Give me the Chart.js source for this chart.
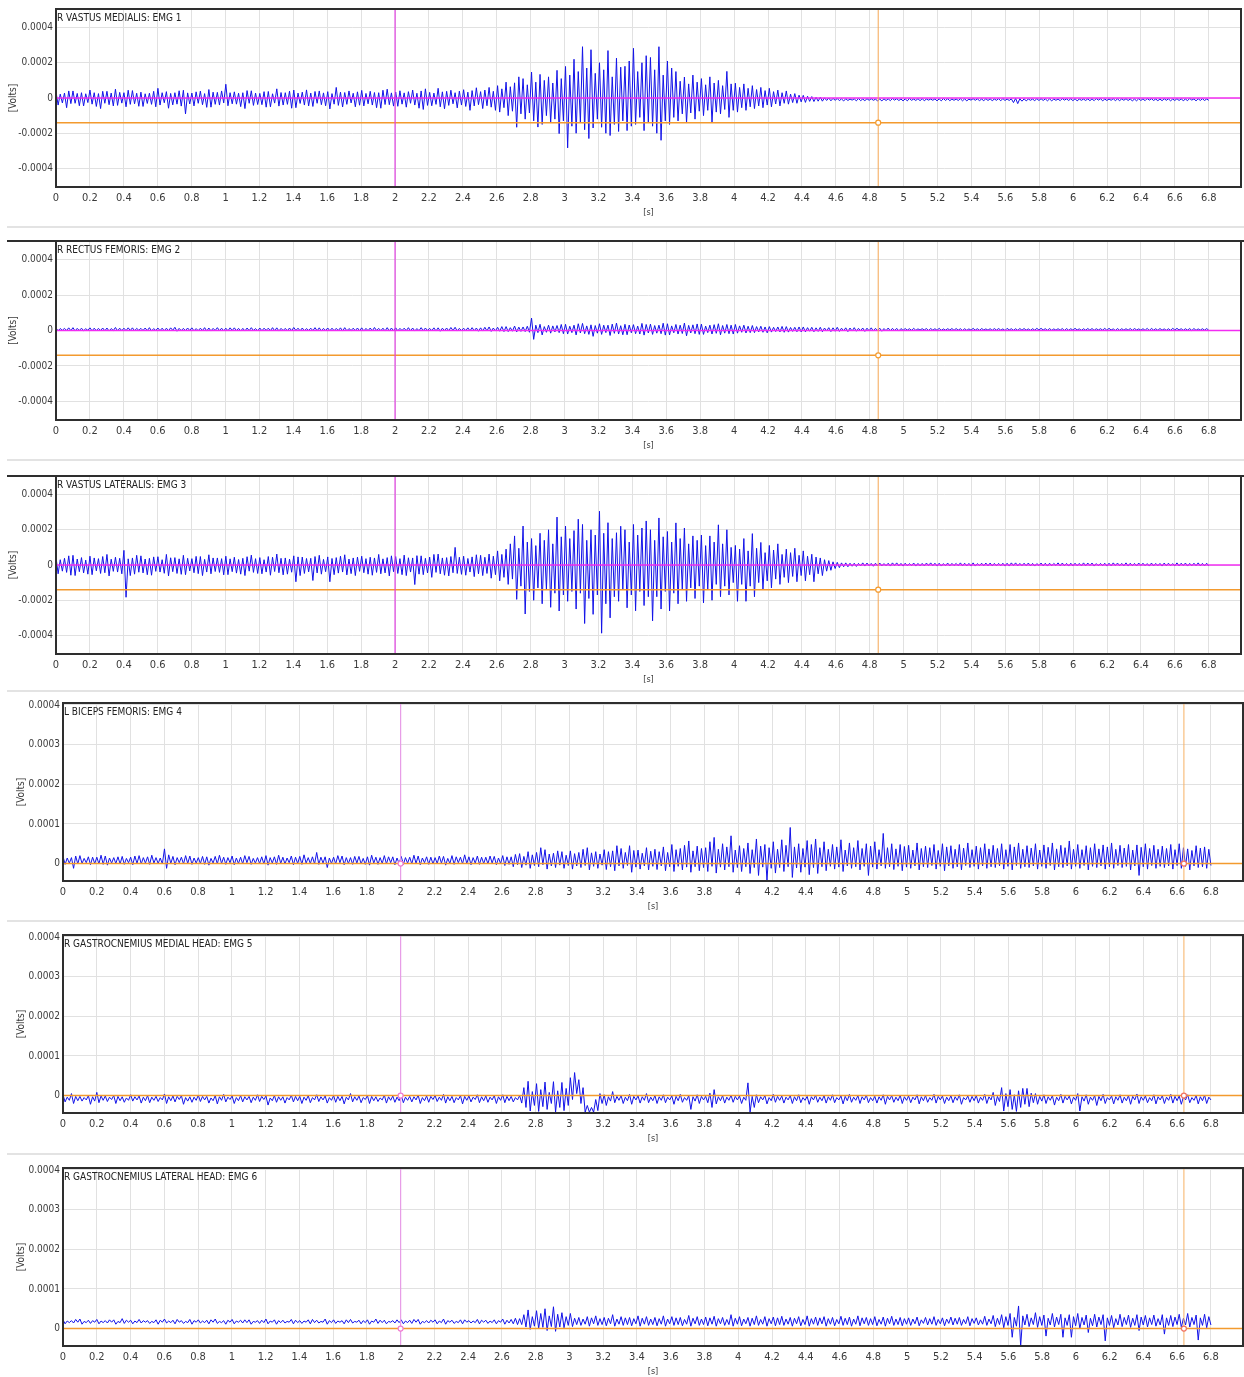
<!DOCTYPE html>
<html lang="en">
<head>
<meta charset="UTF-8">
<title>EMG channels</title>
<script src="https://cdn.jsdelivr.net/npm/chart.js"></script>
<style>
  html, body { margin: 0; padding: 0; background: #fff; overflow: hidden; }
  #sheet { position: relative; width: 1244px; height: 1377px; }
  #sheet canvas { position: absolute; left: 0; }
  .rule { position: absolute; left: 7px; right: 0; height: 2px; background: #e3e3e3; }
</style>
</head>
<body>
<div id="sheet"></div>
<script>
// Peak values per 25 ms bin, in microvolts: positive peak (Hi) and negative peak (Lo).
// One row = 0.5 s.
const TIME_END = 6.8;           // s, end of the recording
const X_MAX = 6.99;

const emg1Hi = [
  35, 22, 28, 40, 40, 26, 30, 24, 45, 30, 25, 38, 38, 28, 50, 32, 30, 44, 42, 27,
  33, 24, 27, 38, 55, 30, 36, 26, 30, 41, 44, 29, 28, 35, 39, 25, 48, 33, 32, 40,
  78, 30, 35, 27, 30, 42, 41, 28, 26, 36, 37, 24, 52, 31, 30, 39, 45, 28, 33, 46,
  28, 37, 40, 29, 36, 25, 60, 33, 31, 40, 27, 35, 43, 26, 38, 31, 30, 44, 50, 29,
  34, 41, 29, 36, 45, 27, 40, 52, 32, 28, 55, 35, 38, 44, 30, 39, 47, 33, 42, 58,
  36, 45, 60, 38, 70, 52, 90, 64, 86, 120, 110, 75, 147, 90, 134, 100, 120, 85, 157, 110,
  179, 130, 220, 150, 291, 170, 274, 140, 200, 160, 269, 120, 226, 175, 180, 210, 282, 150, 200, 240,
  230, 160, 291, 130, 210, 170, 150, 95, 119, 80, 130, 90, 110, 75, 120, 85, 100, 70, 151, 80,
  84, 60, 80, 55, 70, 48, 60, 42, 55, 36, 45, 30, 40, 22, 25, 16, 15, 10, 8, 4,
  4, 1, 0, -2, -3, -5, -4, -6, -5, -3, -6, -4, -4, -7, -6, -5, -5, -3, -4, -6,
  -5, -3, -6, -4, -4, -6, -6, -5, -5, -3, -4, -6, -6, -4, -5, -7, -4, -5, -6, -4,
  -5, -6, -4, -3, -6, -5, -2, -4, -5, -6, -6, -4, -4, -5, -5, -6, -6, -3, -5, -4,
  -4, -6, -6, -5, -5, -3, -4, -6, -6, -4, -5, -5, -4, -6, -6, -4, -5, -3, -4, -6,
  -6, -4, -5, -6, -4, -5, -6, -3, -5, -4, -4, -6
];
const emg1Lo = [
  -40, -28, -55, -32, -30, -44, -45, -26, -35, -48, -60, -30, -38, -45, -42, -29, -50, -36, -33, -47,
  -48, -31, -36, -50, -40, -27, -58, -39, -35, -46, -90, -34, -45, -30, -38, -53, -52, -36, -40, -28,
  -44, -33, -35, -49, -60, -30, -42, -37, -38, -52, -50, -29, -46, -40, -36, -58, -55, -31, -40, -45,
  -48, -30, -38, -44, -62, -35, -42, -51, -36, -28, -50, -41, -45, -33, -40, -55, -58, -37, -38, -46,
  -47, -35, -52, -30, -40, -58, -65, -42, -44, -36, -50, -61, -42, -33, -56, -40, -48, -70, -45, -38,
  -60, -44, -52, -70, -80, -55, -100, -75, -166, -90, -120, -85, -130, -165, -150, -100, -140, -120, -202, -130,
  -283, -160, -200, -140, -180, -230, -170, -120, -166, -200, -213, -150, -190, -130, -185, -160, -150, -110, -185, -140,
  -160, -200, -240, -130, -150, -110, -130, -90, -140, -85, -120, -75, -100, -70, -138, -80, -90, -65, -110, -70,
  -80, -55, -70, -50, -60, -45, -55, -40, -50, -34, -45, -30, -35, -26, -30, -22, -25, -19, -20, -18,
  -18, -14, -16, -13, -15, -17, -14, -12, -16, -15, -15, -13, -13, -16, -16, -14, -15, -12, -14, -16,
  -16, -13, -14, -15, -15, -12, -13, -16, -16, -14, -15, -13, -14, -16, -16, -12, -13, -15, -15, -14,
  -15, -13, -16, -14, -14, -26, -32, -18, -16, -13, -15, -14, -14, -16, -16, -13, -15, -12, -14, -15,
  -16, -13, -14, -15, -15, -12, -16, -14, -13, -15, -15, -13, -14, -16, -16, -14, -15, -12, -14, -15,
  -15, -13, -16, -14, -14, -15, -15, -12, -16, -14, -14, -13
];

const emg2Hi = [
  14, 11, 12, 15, 16, 12, 13, 10, 15, 13, 12, 14, 14, 11, 17, 13, 13, 15, 15, 12,
  12, 14, 16, 11, 14, 13, 13, 15, 18, 12, 12, 14, 15, 11, 13, 16, 14, 12, 16, 13,
  13, 15, 15, 12, 12, 14, 16, 11, 14, 13, 13, 16, 15, 12, 12, 14, 17, 13, 14, 11,
  13, 16, 15, 12, 14, 13, 12, 15, 16, 11, 13, 14, 15, 12, 14, 17, 12, 13, 16, 14,
  15, 12, 13, 16, 14, 11, 16, 14, 12, 15, 15, 13, 14, 17, 18, 12, 13, 15, 16, 14,
  15, 18, 20, 14, 18, 22, 22, 16, 25, 19, 20, 24, 70, 30, 35, 22, 30, 26, 28, 34,
  35, 24, 30, 38, 40, 26, 32, 28, 38, 30, 30, 36, 42, 27, 35, 31, 33, 25, 40, 34,
  36, 28, 30, 41, 38, 26, 34, 30, 42, 29, 32, 37, 36, 25, 30, 33, 38, 28, 34, 30,
  34, 26, 30, 24, 28, 22, 24, 20, 22, 18, 20, 23, 22, 17, 18, 20, 20, 16, 18, 15,
  18, 14, 16, 15, 18, 13, 15, 14, 16, 12, 14, 13, 15, 12, 13, 11, 14, 12, 12, 11,
  11, 10, 12, 9, 10, 11, 11, 10, 12, 9, 10, 11, 11, 10, 10, 9, 12, 10, 11, 9,
  10, 11, 11, 9, 12, 10, 10, 11, 11, 9, 10, 12, 12, 10, 11, 9, 10, 11, 11, 10,
  12, 9, 10, 11, 11, 10, 10, 12, 12, 9, 11, 10, 10, 11, 11, 9, 10, 12, 12, 10,
  11, 9, 10, 12, 12, 10, 10, 11, 11, 9, 10, 11
];
const emg2Lo = [
  -2, 1, 0, -1, -3, 0, -1, 1, -2, -1, 0, -2, -3, 0, -2, -1, -1, 0, -2, 1,
  0, -1, -3, 0, -1, -2, -2, 1, -4, -1, -1, 0, -2, -1, 0, -3, -3, 0, -1, -2,
  -2, 0, -1, -3, -3, -1, 0, -2, -2, 1, -1, -2, -3, 0, -2, -1, 0, -2, -2, 0,
  -1, -2, -3, 0, -2, -1, 0, -3, -2, 0, -1, -2, -3, -1, -2, 0, -1, -3, -3, -1,
  -2, 0, -1, -2, -3, -1, -2, 0, -1, -3, -4, -1, -2, 0, -3, -1, -1, -2, -2, -4,
  -3, -2, -5, -3, -4, -6, -6, -4, -8, -5, -6, -10, -50, -12, -25, -10, -15, -8, -12, -18,
  -20, -12, -25, -14, -18, -22, -33, -15, -22, -12, -28, -16, -20, -24, -24, -13, -18, -20, -26, -14,
  -22, -15, -18, -26, -25, -13, -20, -17, -30, -14, -18, -22, -22, -12, -20, -16, -24, -15, -18, -20,
  -15, -10, -14, -12, -12, -8, -10, -13, -9, -6, -8, -10, -9, -5, -7, -8, -8, -4, -7, -5,
  -7, -3, -6, -4, -5, -2, -6, -3, -4, -1, -5, -2, -3, 0, -4, -1, -2, 0, -3, 1,
  2, 1, 1, 3, 3, 0, 2, 1, 1, 2, 3, 1, 2, 0, 1, 2, 2, 1, 3, 2,
  1, 2, 2, 0, 3, 1, 1, 2, 2, 1, 2, 3, 3, 1, 1, 2, 2, 0, 1, 2,
  3, 1, 2, 2, 1, 3, 2, 1, 3, 0, 1, 2, 2, 1, 3, 2, 1, 0, 2, 1,
  2, 1, 1, 3, 3, 1, 2, 0, 1, 2, 2, 1
];

const emg3Hi = [
  45, 30, 38, 52, 55, 34, 42, 28, 50, 40, 36, 48, 60, 33, 44, 38, 83, 35, 40, 55,
  52, 34, 38, 46, 47, 30, 60, 41, 42, 35, 55, 38, 36, 49, 48, 32, 58, 40, 40, 36,
  50, 35, 44, 31, 38, 47, 56, 36, 42, 30, 48, 44, 62, 38, 40, 33, 52, 46, 45, 37,
  38, 48, 55, 32, 46, 37, 42, 50, 58, 34, 40, 45, 50, 36, 44, 40, 60, 35, 42, 52,
  48, 36, 56, 41, 40, 53, 52, 38, 45, 60, 62, 40, 42, 48, 100, 44, 50, 37, 46, 58,
  55, 44, 62, 50, 80, 60, 90, 120, 165, 95, 221, 130, 150, 110, 180, 140, 200, 120, 272, 160,
  221, 150, 195, 260, 230, 140, 200, 170, 305, 180, 240, 150, 183, 220, 200, 130, 230, 170, 210, 250,
  200, 140, 267, 160, 190, 130, 239, 150, 210, 120, 165, 140, 170, 110, 165, 130, 228, 120, 200, 100,
  111, 90, 150, 80, 178, 95, 128, 70, 111, 85, 120, 60, 90, 70, 95, 55, 80, 50, 61, 45,
  40, 30, 25, 18, 15, 12, 12, 10, 10, 9, 12, 11, 9, 10, 11, 8, 10, 12, 12, 9,
  10, 8, 11, 9, 9, 11, 12, 10, 10, 8, 11, 9, 9, 12, 10, 9, 12, 8, 10, 11,
  11, 9, 9, 10, 10, 12, 12, 9, 10, 11, 9, 8, 11, 10, 10, 9, 12, 11, 9, 10,
  10, 9, 12, 11, 11, 8, 9, 10, 10, 12, 11, 9, 12, 10, 9, 11, 10, 8, 11, 9,
  9, 11, 10, 8, 12, 10, 11, 9, 10, 12, 9, 10
];
const emg3Lo = [
  -50, -35, -42, -58, -60, -38, -45, -52, -55, -33, -48, -44, -62, -36, -40, -50, -183, -60, -52, -41,
  -45, -55, -58, -36, -40, -47, -62, -38, -48, -53, -55, -34, -44, -49, -60, -40, -50, -37, -42, -56,
  -55, -38, -46, -52, -60, -35, -42, -48, -50, -40, -58, -37, -44, -56, -52, -41, -95, -60, -48, -39,
  -88, -45, -52, -38, -95, -55, -46, -40, -56, -49, -60, -36, -44, -52, -58, -42, -50, -45, -62, -38,
  -48, -55, -60, -40, -111, -52, -55, -45, -70, -42, -50, -58, -62, -44, -48, -53, -58, -40, -66, -50,
  -60, -48, -75, -55, -90, -70, -110, -80, -195, -120, -278, -150, -200, -130, -220, -140, -240, -160, -261, -170,
  -206, -150, -250, -160, -332, -190, -280, -170, -387, -220, -300, -180, -206, -140, -243, -170, -260, -150, -230, -180,
  -317, -180, -250, -150, -261, -160, -220, -140, -206, -130, -190, -120, -215, -140, -200, -110, -180, -120, -170, -100,
  -206, -110, -206, -120, -180, -100, -139, -90, -130, -80, -110, -70, -100, -65, -95, -60, -90, -55, -95, -50,
  -60, -35, -30, -20, -15, -10, -10, -7, -8, -5, -6, -4, -7, -5, -5, -4, -6, -3, -5, -6,
  -4, -3, -6, -5, -5, -3, -4, -6, -6, -4, -5, -3, -4, -5, -5, -6, -6, -3, -4, -5,
  -5, -4, -4, -6, -6, -3, -5, -4, -4, -5, -6, -3, -5, -6, -4, -3, -5, -4, -6, -5,
  -4, -5, -5, -3, -6, -4, -4, -6, -5, -3, -4, -5, -6, -4, -5, -3, -4, -6, -5, -4,
  -6, -4, -4, -5, -5, -3, -6, -4, -4, -5, -5, -6
];

const emg4Hi = [
  18, 14, 15, 19, 20, 13, 17, 16, 16, 21, 19, 14, 15, 17, 18, 13, 16, 19, 20, 15,
  17, 21, 15, 14, 37, 22, 18, 15, 16, 20, 19, 14, 15, 18, 17, 13, 18, 21, 16, 15,
  19, 14, 16, 20, 18, 13, 15, 17, 20, 15, 17, 21, 16, 14, 19, 16, 18, 22, 15, 17,
  28, 16, 17, 14, 16, 20, 19, 15, 15, 18, 18, 13, 17, 21, 16, 15, 20, 17, 17, 14,
  18, 15, 16, 21, 19, 14, 17, 16, 15, 19, 18, 13, 20, 17, 16, 22, 17, 15, 19, 16,
  16, 19, 18, 14, 20, 17, 17, 23, 25, 18, 30, 22, 28, 40, 35, 24, 26, 32, 30, 21,
  32, 25, 28, 36, 40, 27, 30, 24, 35, 30, 32, 45, 38, 28, 45, 33, 34, 26, 40, 31,
  36, 30, 42, 28, 48, 35, 38, 46, 57, 32, 44, 38, 40, 55, 66, 36, 50, 42, 70, 34,
  45, 38, 52, 35, 62, 44, 48, 40, 55, 36, 60, 46, 91, 42, 50, 38, 58, 48, 62, 40,
  55, 36, 48, 42, 60, 34, 52, 40, 58, 38, 50, 44, 55, 35, 76, 40, 50, 37, 48, 43,
  46, 34, 52, 38, 44, 40, 48, 33, 50, 42, 45, 36, 48, 39, 52, 35, 44, 40, 50, 37,
  46, 38, 50, 35, 48, 42, 52, 36, 45, 39, 50, 34, 47, 41, 52, 37, 46, 40, 57, 36,
  48, 35, 45, 40, 50, 37, 47, 42, 52, 36, 46, 39, 48, 34, 47, 41, 50, 38, 46, 36,
  44, 38, 48, 35, 50, 40, 37, 33, 45, 39, 42, 36
];
const emg4Lo = [
  -2, 1, -12, -1, 0, 2, -3, 0, -1, -2, -4, 1, 0, -1, -2, 2, -3, 0, -1, 1,
  -2, 1, 0, -1, -12, 0, -3, 2, -1, 0, -2, 1, 0, -2, -4, 1, -1, 0, -2, 2,
  -3, 0, -1, 2, -2, 1, 0, -1, -4, 1, -2, 0, -1, 2, -3, 0, -2, 1, 0, -1,
  -2, 1, -10, 0, -1, 2, -3, 0, -2, 1, -1, -2, -4, 1, -2, 0, -1, 2, -3, 0,
  -2, 1, -1, 0, -3, 2, -2, -1, 0, 1, -4, 0, -2, 2, -1, 0, -3, 1, -2, 0,
  -1, 1, -3, 0, -5, -2, -8, -3, -10, -4, -12, -5, -8, -3, -14, -6, -10, -4, -12, -5,
  -14, -6, -10, -5, -16, -7, -12, -4, -15, -8, -18, -6, -12, -5, -22, -9, -14, -6, -16, -7,
  -15, -6, -18, -8, -20, -7, -16, -9, -22, -8, -18, -10, -20, -7, -24, -9, -16, -8, -22, -10,
  -20, -8, -25, -10, -30, -9, -42, -12, -24, -10, -20, -8, -35, -11, -22, -9, -28, -10, -25, -8,
  -18, -7, -14, -9, -20, -6, -12, -8, -16, -7, -30, -9, -14, -6, -12, -8, -15, -7, -18, -9,
  -12, -6, -16, -8, -10, -5, -14, -7, -18, -6, -12, -8, -16, -5, -10, -7, -14, -6, -12, -8,
  -10, -6, -14, -7, -16, -5, -12, -8, -10, -6, -14, -7, -12, -5, -16, -8, -10, -6, -14, -7,
  -12, -5, -16, -7, -10, -6, -14, -8, -12, -5, -10, -7, -16, -6, -30, -8, -14, -5, -12, -7,
  -10, -6, -14, -5, -12, -7, -16, -6, -10, -8, -12, -5
];

const emg5Hi = [
  2, -4, 5, -2, -2, -5, 0, -3, 8, -1, -1, -4, 0, -2, -3, -6, 2, -3, -1, -4,
  0, -4, -2, -5, 4, -3, -1, -2, 0, -5, -3, -4, 1, -2, -2, -6, 0, -3, 3, -4,
  -1, -5, 0, -3, -2, -4, 2, -2, -1, -6, 0, -3, -3, -5, 1, -2, -2, -4, 0, -5,
  2, -3, -1, -5, 0, -2, -2, -4, 5, -3, -1, -5, 0, -2, -3, -6, 1, -3, -1, -4,
  0, -4, -2, -3, 1, -5, -1, -2, 0, -4, 3, -3, -2, -5, 0, -2, -1, -4, 2, -3,
  -1, -4, 0, -3, 2, -2, -2, -5, 0, 20, 36, 10, 30, 15, 34, 8, 35, 12, 33, 18,
  45, 58, 40, 20, -25, -30, -10, 5, 2, -3, 10, -2, 0, -4, 3, -2, -1, -3, 5, -4,
  0, -3, 2, -4, -1, -2, 3, -5, 0, -3, 2, -2, -2, 6, 15, -3, 0, -4, 1, -2,
  -1, -4, 32, -2, 2, -3, 0, -5, 3, -2, -1, -4, 0, -3, 2, -5, -2, -3, 1, -4,
  0, -3, 2, -5, -1, -2, 3, -4, 0, -3, 1, -5, -2, -3, 2, -2, 0, -4, 1, -3,
  -1, -4, 2, -3, 0, -5, 3, -2, -1, -4, 0, -3, 2, -5, -1, -2, 0, -4, 3, -3,
  8, -2, 20, 5, 15, 2, 12, 18, 18, 6, 5, -2, 2, -3, 0, -4, 3, -2, -1, -4,
  5, -3, 2, -4, 0, -2, 3, -5, -1, -3, 2, -4, 0, -2, 4, -3, -1, -5, 2, -3,
  0, -4, 3, -2, -1, -3, 2, -5, 0, -3, 1, -4
];
const emg5Lo = [
  -16, -12, -20, -13, -14, -11, -22, -14, -18, -12, -15, -10, -20, -13, -17, -12, -14, -11, -19, -13,
  -18, -12, -15, -11, -20, -13, -16, -10, -22, -14, -17, -12, -15, -11, -19, -13, -21, -12, -16, -10,
  -20, -13, -16, -11, -18, -12, -15, -10, -24, -13, -17, -12, -19, -11, -16, -13, -20, -12, -18, -11,
  -15, -11, -19, -12, -17, -13, -21, -11, -16, -12, -18, -10, -20, -13, -15, -11, -19, -12, -17, -13,
  -18, -12, -16, -11, -20, -13, -17, -10, -15, -12, -19, -13, -18, -11, -21, -12, -16, -10, -18, -13,
  -17, -11, -20, -12, -18, -13, -16, -11, -19, -30, -39, -25, -40, -28, -35, -20, -42, -30, -38, -25,
  -10, 5, -20, -42, -42, -42, -38, -20, -25, -14, -18, -12, -20, -13, -22, -11, -19, -12, -18, -13,
  -20, -12, -18, -11, -22, -13, -17, -12, -35, -14, -20, -11, -18, -30, -21, -13, -19, -12, -17, -11,
  -20, -12, -42, -30, -18, -11, -21, -13, -17, -12, -19, -11, -20, -13, -18, -12, -22, -11, -17, -13,
  -19, -12, -18, -11, -21, -13, -17, -12, -20, -11, -18, -13, -19, -12, -22, -11, -17, -13, -20, -12,
  -18, -11, -21, -13, -17, -12, -19, -11, -20, -13, -18, -12, -22, -11, -17, -13, -19, -12, -20, -11,
  -25, -15, -39, -28, -35, -40, -30, -22, -28, -18, -22, -14, -20, -12, -24, -13, -19, -11, -21, -12,
  -39, -14, -22, -12, -25, -13, -20, -11, -21, -12, -19, -13, -22, -11, -20, -12, -18, -13, -21, -11,
  -20, -12, -19, -13, -22, -11, -18, -12, -21, -13, -20, -11
];

const emg6Hi = [
  22, 19, 20, 23, 24, 18, 21, 20, 23, 19, 20, 22, 22, 18, 25, 21, 21, 19, 23, 20,
  20, 18, 22, 21, 24, 19, 21, 23, 20, 18, 23, 20, 22, 19, 21, 22, 24, 18, 20, 21,
  23, 19, 21, 22, 22, 18, 20, 21, 24, 19, 22, 20, 21, 18, 23, 21, 20, 19, 22, 23,
  21, 18, 24, 20, 22, 19, 20, 22, 23, 18, 21, 20, 22, 19, 24, 21, 21, 18, 20, 22,
  22, 19, 21, 23, 23, 18, 20, 21, 22, 19, 24, 20, 21, 18, 22, 22, 20, 19, 23, 21,
  21, 19, 22, 20, 24, 21, 23, 26, 25, 35, 47, 30, 45, 38, 50, 32, 55, 36, 40, 30,
  38, 26, 28, 24, 30, 27, 32, 25, 28, 26, 35, 24, 30, 27, 28, 25, 32, 26, 30, 24,
  28, 25, 32, 24, 30, 27, 28, 23, 33, 26, 30, 24, 29, 27, 31, 25, 28, 23, 35, 26,
  30, 24, 28, 26, 32, 23, 30, 25, 29, 27, 31, 24, 28, 26, 30, 23, 32, 25, 29, 27,
  30, 25, 28, 23, 31, 26, 29, 24, 32, 27, 28, 25, 30, 23, 29, 26, 31, 24, 28, 25,
  27, 24, 29, 22, 28, 25, 30, 23, 27, 24, 29, 26, 28, 23, 30, 25, 27, 22, 31, 24,
  33, 26, 35, 30, 38, 28, 57, 32, 36, 27, 40, 30, 34, 26, 38, 29, 36, 27, 35, 30,
  38, 28, 34, 26, 36, 29, 35, 27, 33, 25, 36, 28, 34, 26, 35, 29, 33, 27, 34, 25,
  35, 27, 33, 29, 36, 26, 38, 28, 34, 27, 36, 30
];
const emg6Lo = [
  12, 15, 14, 16, 11, 15, 13, 16, 12, 15, 14, 16, 11, 15, 13, 16, 12, 15, 14, 16,
  13, 15, 11, 16, 14, 15, 12, 16, 13, 15, 11, 16, 14, 15, 12, 16, 13, 15, 11, 16,
  12, 16, 14, 15, 11, 16, 13, 15, 12, 16, 11, 15, 14, 16, 12, 15, 13, 16, 12, 15,
  14, 16, 11, 15, 13, 16, 12, 15, 14, 16, 12, 15, 11, 16, 13, 15, 12, 16, 14, 15,
  12, 15, 13, 16, 11, 15, 14, 16, 12, 15, 11, 16, 13, 15, 12, 16, 14, 15, 12, 16,
  13, 15, 12, 16, 11, 14, 12, 10, 10, 4, -2, 6, 0, 3, -5, 5, -7, 4, 2, 8,
  5, 10, 8, 11, 6, 12, 8, 10, 7, 12, 6, 11, 8, 10, 7, 12, 6, 11, 8, 10,
  7, 11, 6, 12, 8, 10, 7, 11, 6, 12, 8, 10, 7, 11, 6, 12, 8, 10, 6, 11,
  7, 12, 6, 10, 8, 11, 6, 12, 7, 10, 8, 11, 6, 12, 7, 10, 6, 11, 8, 12,
  6, 11, 7, 12, 8, 10, 6, 11, 7, 12, 8, 10, 7, 11, 6, 12, 8, 10, 7, 11,
  8, 12, 7, 13, 9, 11, 8, 12, 7, 13, 9, 11, 8, 12, 7, 13, 9, 11, 8, 12,
  5, 10, 2, 8, -22, 6, -44, 9, 5, 10, 3, 8, -19, 9, 4, 10, -22, 8, -22, 7,
  0, 9, -10, 7, 4, 10, -31, 8, 2, 9, 5, 10, 3, 8, -5, 9, 4, 10, 6, 9,
  -14, 8, 5, 10, 3, 9, 4, 10, -29, 8, 2, 9
];

// cursor positions
const CURSOR_A = 2.0;          // s
const CURSOR_B_KNEE = 4.85;    // s, knee extensor channels
const CURSOR_B_CALF = 6.64;    // s, flexor / calf channels
const LEVEL_B_KNEE = -0.00014; // V

const FONT = "'DejaVu Sans Condensed', 'Liberation Sans Narrow', sans-serif";
const TEXT = '#3a3a3a';
const GRID = '#e1e1e1';
const TRACE = '#1212e8';
const X_AXIS_H = 36;
const PAD_TOP = 7;

// each bin contributes its positive peak, then its negative peak
function trace(hi, lo) {
  const n = hi.length * 2 - 1;
  const pts = [];
  hi.forEach((h, i) => {
    pts.push({ x: (2 * i) * TIME_END / n, y: h * 1e-6 });
    pts.push({ x: (2 * i + 1) * TIME_END / n, y: lo[i] * 1e-6 });
  });
  return pts;
}

const kneeCursors = {
  h: [{ y: 0, color: '#f22cf2', w: 1.5 }, { y: LEVEL_B_KNEE, color: '#f39a2e', w: 1.5 }],
  v: [{ x: CURSOR_A, color: '#e13fe1', w: 1.2 }, { x: CURSOR_B_KNEE, color: '#f5a654', w: 1 }],
  marks: [{ x: CURSOR_B_KNEE, y: LEVEL_B_KNEE, color: '#f39a2e' }]
};
const calfCursors = {
  h: [{ y: 0, color: '#f39a2e', w: 1.5 }],
  v: [{ x: CURSOR_A, color: '#e79be7', w: 1.2 }, { x: CURSOR_B_CALF, color: '#f7b164', w: 1 }],
  marks: [{ x: CURSOR_A, y: 0, color: '#f07ad0' }, { x: CURSOR_B_CALF, y: 0, color: '#f07060' }]
};

const knee = { yMin: -0.000505, yMax: 0.000505, yStep: 0.0002, left: 56, right: 1241, volts: 13, cur: kneeCursors };
const calf = { yMin: -0.000044, yMax: 0.000405, yStep: 0.0001, left: 63, right: 1243, volts: 21, cur: calfCursors };

const panels = [
  { name: 'R VASTUS MEDIALIS: EMG 1', hi: emg1Hi, lo: emg1Lo, top: 7, bottom: 187, ...knee },
  { name: 'R RECTUS FEMORIS: EMG 2', hi: emg2Hi, lo: emg2Lo, top: 239, bottom: 420, ...knee, topRule: true },
  { name: 'R VASTUS LATERALIS: EMG 3', hi: emg3Hi, lo: emg3Lo, top: 474, bottom: 654, ...knee, topRule: true },
  { name: 'L BICEPS FEMORIS: EMG 4', hi: emg4Hi, lo: emg4Lo, top: 701, bottom: 881, ...calf },
  { name: 'R GASTROCNEMIUS MEDIAL HEAD: EMG 5', hi: emg5Hi, lo: emg5Lo, top: 933, bottom: 1113, ...calf },
  { name: 'R GASTROCNEMIUS LATERAL HEAD: EMG 6', hi: emg6Hi, lo: emg6Lo, top: 1166, bottom: 1346, ...calf }
];

const separators = [226, 459, 690, 920, 1153];

// cursors, frame and channel name drawn over the trace
const decor = {
  id: 'decor',
  afterDatasetsDraw(chart, args, o) {
    const { ctx, chartArea: a, scales: { x, y } } = chart;
    ctx.save();
    ctx.beginPath();
    ctx.rect(a.left, a.top, a.width, a.height);
    ctx.clip();
    o.cur.h.forEach(l => {
      const py = y.getPixelForValue(l.y);
      ctx.strokeStyle = l.color; ctx.lineWidth = l.w;
      ctx.beginPath(); ctx.moveTo(a.left, py); ctx.lineTo(a.right, py); ctx.stroke();
    });
    o.cur.v.forEach(l => {
      const px = x.getPixelForValue(l.x);
      ctx.strokeStyle = l.color; ctx.lineWidth = l.w;
      ctx.beginPath(); ctx.moveTo(px, a.top); ctx.lineTo(px, a.bottom); ctx.stroke();
    });
    o.cur.marks.forEach(m => {
      ctx.strokeStyle = m.color; ctx.lineWidth = 1.2; ctx.fillStyle = '#fff';
      ctx.beginPath();
      ctx.arc(x.getPixelForValue(m.x), y.getPixelForValue(m.y), 2.5, 0, Math.PI * 2);
      ctx.fill(); ctx.stroke();
    });
    ctx.restore();

    ctx.save();
    ctx.strokeStyle = '#2e2e2e';
    ctx.lineWidth = 2;
    ctx.strokeRect(a.left, a.top, a.width, a.height);
    if (o.topRule) {
      ctx.beginPath(); ctx.moveTo(7, a.top); ctx.lineTo(chart.width, a.top); ctx.stroke();
    }
    ctx.fillStyle = '#222';
    ctx.font = '10px ' + FONT;
    ctx.textBaseline = 'middle';
    ctx.textAlign = 'left';
    ctx.fillText(o.name, a.left + 1, a.top + 9);
    ctx.restore();
  }
};

const sheet = document.getElementById('sheet');

separators.forEach(y => {
  const d = document.createElement('div');
  d.className = 'rule';
  d.style.top = y + 'px';
  sheet.appendChild(d);
});

panels.forEach(p => {
  const canvas = document.createElement('canvas');
  const h = p.bottom - p.top + PAD_TOP + X_AXIS_H;
  canvas.width = 1244;
  canvas.height = h;
  canvas.style.width = '1244px';
  canvas.style.height = h + 'px';
  canvas.style.top = (p.top - PAD_TOP) + 'px';
  sheet.appendChild(canvas);

  new Chart(canvas, {
    type: 'line',
    data: {
      datasets: [{
        data: trace(p.hi, p.lo),
        borderColor: TRACE,
        borderWidth: 1,
        pointRadius: 0,
        tension: 0,
        fill: false
      }]
    },
    options: {
      responsive: false,
      animation: false,
      devicePixelRatio: 1,
      events: [],
      layout: { padding: { top: PAD_TOP, right: 1244 - p.right, left: 0, bottom: 0 } },
      plugins: {
        legend: { display: false },
        tooltip: { enabled: false },
        decor: { name: p.name, cur: p.cur, topRule: !!p.topRule }
      },
      scales: {
        x: {
          type: 'linear',
          min: 0,
          max: X_MAX,
          grid: { color: GRID, drawTicks: false },
          border: { display: false },
          ticks: {
            stepSize: 0.2,
            includeBounds: false,
            autoSkip: false,
            maxRotation: 0,
            padding: 5,
            color: TEXT,
            font: { family: FONT, size: 11 },
            callback: v => String(v)
          },
          title: {
            display: true,
            text: '[s]',
            color: TEXT,
            font: { family: FONT, size: 9 },
            padding: { top: 0, bottom: 5 }
          },
          afterFit: s => { s.height = X_AXIS_H; }
        },
        y: {
          min: p.yMin,
          max: p.yMax,
          grid: { color: GRID, drawTicks: false },
          border: { display: false },
          ticks: {
            stepSize: p.yStep,
            includeBounds: false,
            padding: 3,
            color: TEXT,
            font: { family: FONT, size: 10 },
            callback: v => (v === 0 ? '0' : String(v))
          },
          title: {
            display: true,
            text: '[Volts]',
            color: TEXT,
            font: { family: FONT, size: 10 },
            padding: { top: p.volts - 6, bottom: 0 }
          },
          afterFit: s => { s.width = p.left; }
        }
      }
    },
    plugins: [decor]
  });
});
</script>
</body>
</html>
